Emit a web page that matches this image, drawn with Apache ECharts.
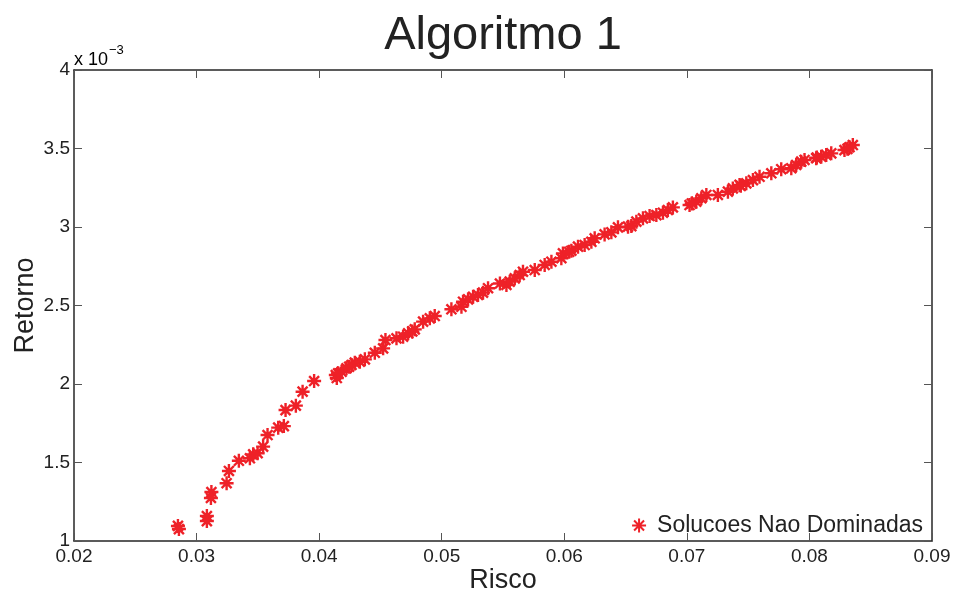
<!DOCTYPE html>
<html>
<head>
<meta charset="utf-8">
<script src="https://cdn.jsdelivr.net/npm/echarts@6/dist/echarts.min.js"></script>
<style>html,body{margin:0;padding:0;background:#fff}#c{width:953px;height:594px}</style>
</head>
<body>
<div id="c"></div>
<script>
// Risco (x) values
const risco = [
  0.02848,0.02856,0.03084,0.03084,0.03121,0.03117,0.03245,0.03264,0.03345,0.03435,
  0.03462,0.03498,0.03543,0.03579,0.03666,0.03712,0.03726,0.0381,0.03865,0.03959,
  0.04136,0.04144,0.04155,0.04183,0.04223,0.04264,0.04291,0.04332,0.04373,0.04454,
  0.04522,0.04541,0.04631,0.04685,0.04726,0.0478,0.04848,0.04903,0.04943,0.05079,
  0.05161,0.05174,0.05215,0.05256,0.05296,0.05337,0.05378,0.05528,0.05555,0.05596,
  0.05636,0.05663,0.05759,0.0584,0.05895,0.05976,0.05989,0.06058,0.06112,0.06166,
  0.06221,0.06248,0.06329,0.06384,0.06438,0.06547,0.06588,0.06642,0.06696,0.06751,
  0.06805,0.06845,0.06886,0.07022,0.07077,0.07118,0.07159,0.07253,0.07335,0.07375,
  0.0743,0.07485,0.07539,0.07593,0.07689,0.0777,0.07852,0.07892,0.07933,0.0796,
  0.08055,0.08096,0.08137,0.08178,0.08286,0.08327,0.08354,
  0.0476,0.04245,0.05475,0.0604,0.0652,0.0704,0.0744,0.0806,0.0831
];
// Retorno (y) values, in units of 10^-3
const retornoE3 = [
  1.096,1.076,1.159,1.127,1.312,1.274,1.368,1.446,1.511,1.527,
  1.552,1.559,1.601,1.675,1.722,1.732,1.834,1.862,1.951,2.019,
  2.057,2.038,2.068,2.078,2.100,2.121,2.136,2.142,2.157,2.199,
  2.227,2.280,2.291,2.301,2.323,2.348,2.397,2.418,2.433,2.476,
  2.492,2.524,2.539,2.556,2.567,2.582,2.610,2.631,2.652,2.673,
  2.694,2.715,2.726,2.758,2.779,2.801,2.832,2.849,2.875,2.885,
  2.906,2.928,2.953,2.966,2.998,3.006,3.034,3.055,3.070,3.076,
  3.091,3.108,3.125,3.140,3.161,3.183,3.204,3.204,3.225,3.246,
  3.268,3.278,3.299,3.320,3.342,3.368,3.374,3.395,3.416,3.427,
  3.438,3.448,3.459,3.469,3.490,3.508,3.522,
  2.335,2.110,2.640,2.842,3.002,3.150,3.262,3.442,3.498
];
const xTicks = [0.02,0.03,0.04,0.05,0.06,0.07,0.08,0.09];
const yTicks = [1,1.5,2,2.5,3,3.5,4];

const points = risco.map((x,i)=>[x, retornoE3[i]]);
const star = 'path://M10 0L10 20M0 10L20 10M2.9 2.9L17.1 17.1M2.9 17.1L17.1 2.9';
const red = '#ee2128';
const ink = '#222222';
const fontFam = '"Liberation Sans", Arial, Helvetica, sans-serif';

const chart = echarts.init(document.getElementById('c'), null, {renderer:'canvas'});
const axisCommon = {
  type:'value',
  axisLine:{show:true,lineStyle:{color:'#262626',width:1.5}},
  axisTick:{show:true,inside:true,length:8,lineStyle:{color:'#555',width:1}},
  splitLine:{show:false}
};
chart.setOption({
  animation:false,
  backgroundColor:'#fff',
  title:{text:'Algoritmo 1',left:498,top:8,textAlign:'center',
    textStyle:{fontFamily:fontFam,fontSize:47,fontWeight:'normal',color:ink}},
  grid:{left:74,right:21,top:70,bottom:53,containLabel:false,outerBoundsMode:'none'},
  legend:{data:['Solucoes Nao Dominadas'],right:25,top:509,itemWidth:14,itemHeight:14,itemGap:9,
    textStyle:{fontFamily:fontFam,fontSize:23,color:ink,padding:[0,0,0,6]},
    icon:star},
  xAxis:[
    Object.assign({},axisCommon,{min:xTicks[0],max:xTicks[xTicks.length-1],interval:0.01,
      name:'Risco',nameLocation:'middle',nameGap:26,nameMoveOverlap:false,
      nameTextStyle:{fontFamily:fontFam,fontSize:27,color:ink},
      axisLabel:{fontFamily:fontFam,fontSize:19,color:ink,margin:6,
        formatter:v=>v.toFixed(2)}}),
    Object.assign({},axisCommon,{position:'top',min:xTicks[0],max:xTicks[xTicks.length-1],interval:0.01,
      axisLabel:{show:false}})
  ],
  yAxis:[
    Object.assign({},axisCommon,{min:yTicks[0],max:yTicks[yTicks.length-1],interval:0.5,
      name:'Retorno',nameLocation:'middle',nameGap:35,nameRotate:90,nameMoveOverlap:false,
      nameTextStyle:{fontFamily:fontFam,fontSize:27,color:ink},
      axisLabel:{fontFamily:fontFam,fontSize:19,color:ink,margin:4,
        formatter:v=>String(+v.toFixed(1))}}),
    Object.assign({},axisCommon,{position:'right',min:yTicks[0],max:yTicks[yTicks.length-1],interval:0.5,
      axisLabel:{show:false}})
  ],
  graphic:[{type:'text',left:74,top:44,
    style:{text:'{a|x 10}{b|−3}',rich:{
      a:{fontFamily:fontFam,fontSize:18,color:ink,verticalAlign:'bottom'},
      b:{fontFamily:fontFam,fontSize:13,color:ink,verticalAlign:'top',padding:[0,0,12,1]}}}}],
  series:[{
    name:'Solucoes Nao Dominadas',type:'scatter',data:points,
    symbol:star,symbolSize:14,
    itemStyle:{color:'rgba(0,0,0,0)',borderColor:red,borderWidth:2.4,opacity:1}
  }]
});
</script>
</body>
</html>
